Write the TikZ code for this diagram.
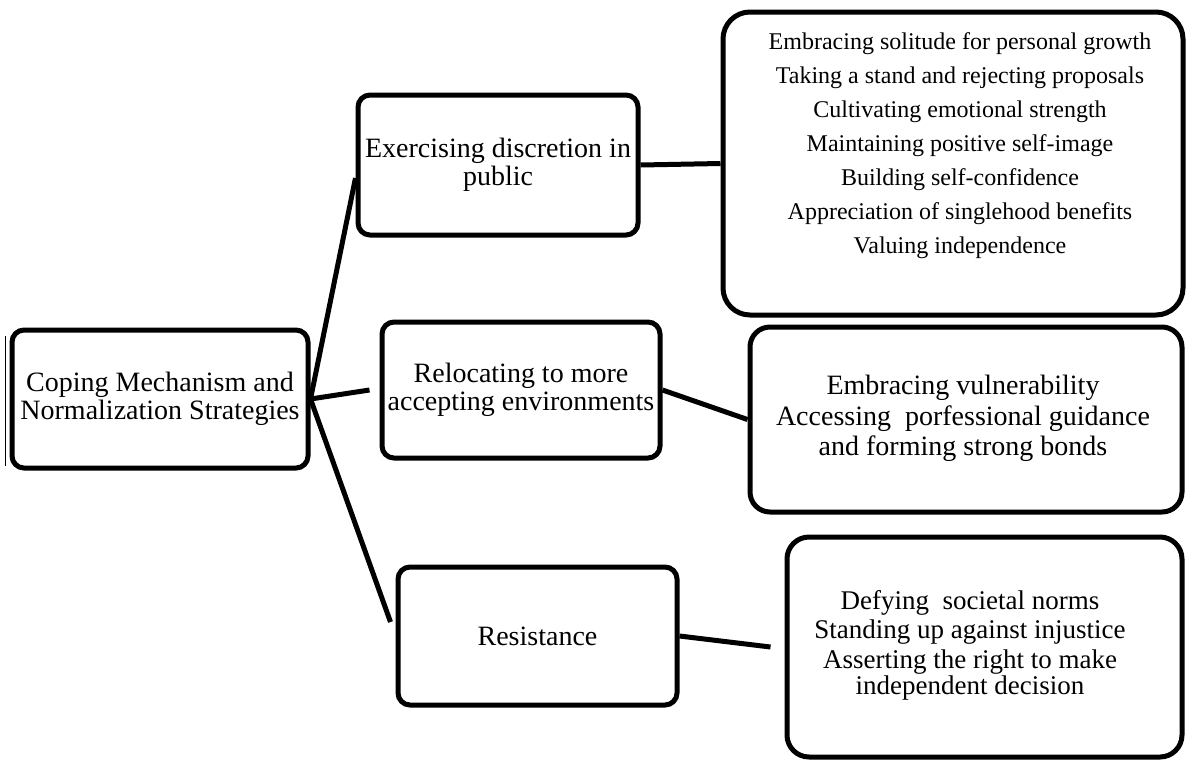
\documentclass[tikz,border=0pt]{standalone}
\usepackage{fontspec}
\setmainfont{Liberation Serif}
\usepackage{tikz}

\tikzset{
  box/.style={rectangle, rounded corners=12pt, draw, line width=5pt, align=center, font=\fontsize{28}{28}\selectfont},
  bigbox/.style={rectangle, rounded corners=25pt, draw, line width=5pt},
  list/.style={align=center},
  link/.style={line width=5pt}
}

\begin{document}
\begin{tikzpicture}[x=1pt,y=-1pt]
\useasboundingbox (0,0) rectangle (1189,764);

% root box
\node (root) at (160,399) [box, minimum width=296pt, minimum height=138pt] {Coping Mechanism and\\Normalization Strategies};
\draw[line width=1pt] ([xshift=-4pt,yshift=-8pt]root.north west) -- ([xshift=-4pt,yshift=5pt]root.south west);

% middle column
\node (exer) at (498,165) [box, minimum width=280pt, minimum height=140pt] {Exercising discretion in\\public};
\node (reloc) at (521,390) [box, minimum width=278pt, minimum height=136pt] {Relocating to more\\accepting environments};
\node (resist) at (537.5,636) [box, minimum width=279pt, minimum height=138pt] {Resistance};

% right column
\node (big1) at (953,163.5) [bigbox, rounded corners=27pt, minimum width=460pt, minimum height=303pt] {};
\node (list1) at (960,145.5) [list, font=\fontsize{24}{34}\selectfont] {Embracing solitude for personal growth\\Taking a stand and rejecting proposals\\Cultivating emotional strength\\Maintaining positive self-image\\Building self-confidence\\Appreciation of singlehood benefits\\Valuing independence};

\node (big2) at (966,419.5) [bigbox, rounded corners=20pt, minimum width=432pt, minimum height=185pt] {};
\node (list2) at (963,418) [list, font=\fontsize{28}{30}\selectfont] {Embracing vulnerability\\[1pt]Accessing\ \ porfessional guidance\\and forming strong bonds};

\node (big3) at (984.5,647) [bigbox, rounded corners=22pt, minimum width=395pt, minimum height=220pt] {};
\node (list3) at (970,645) [list, font=\fontsize{27}{26}\selectfont] {Defying\ \ societal norms\\[3pt]Standing up against injustice\\[4pt]Asserting the right to make\\independent decision};

% branches from root
\draw[link] (root.east) -- ([yshift=-13pt]exer.west);
\draw[link] (root.east) -- ([xshift=-10pt]reloc.west);
\draw[link] (root.east) -- ([xshift=-5pt,yshift=14pt]resist.west);

% branches to lists
\draw[link] (exer.east) -- (big1.west);
\draw[link] (reloc.east) -- (big2.west);
\draw[link] (resist.east) -- ([xshift=-14pt]big3.west);

\end{tikzpicture}
\end{document}
